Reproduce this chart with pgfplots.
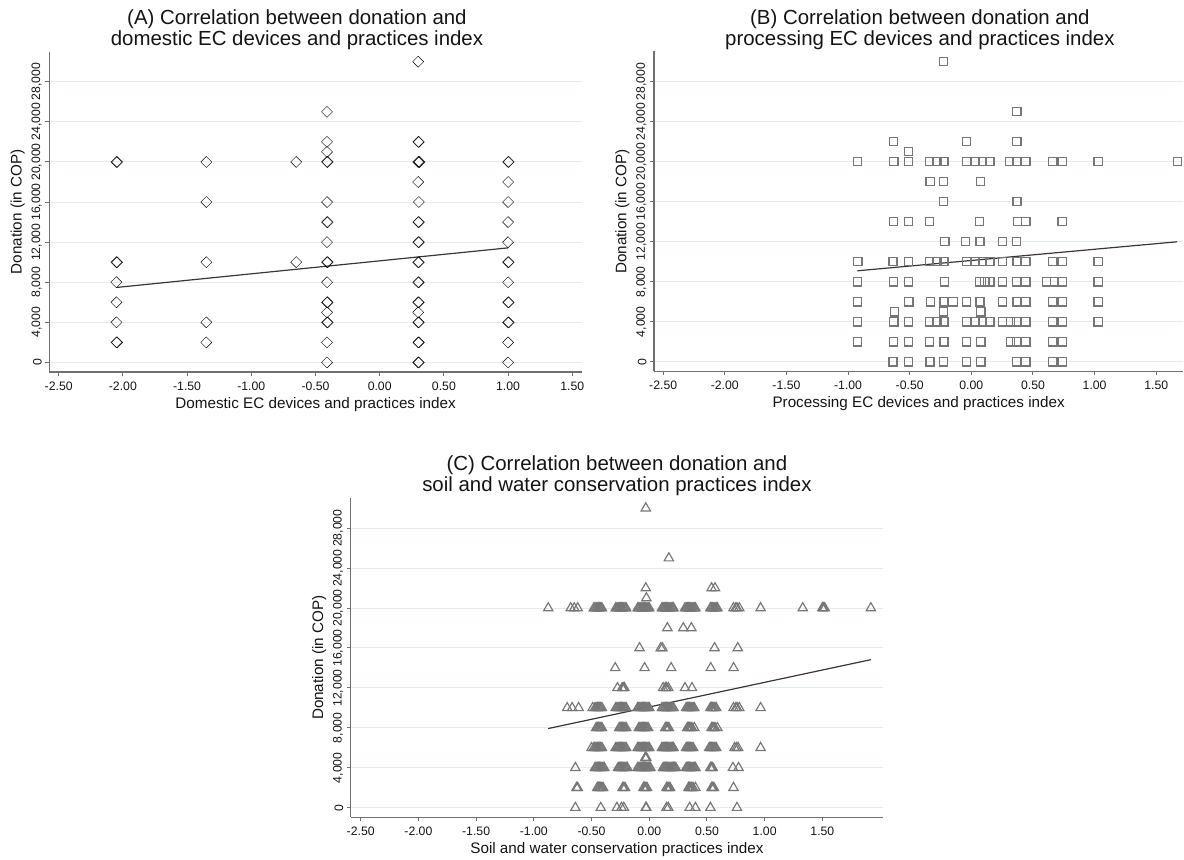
\documentclass[border=0pt]{standalone}
\usepackage{fontspec}
\setmainfont{Liberation Sans}
\usepackage{pgfplots}
\pgfplotsset{compat=1.18}
\definecolor{mk}{RGB}{118,118,118}
\definecolor{gridc}{RGB}{226,237,241}
\definecolor{axc}{RGB}{112,112,112}
\definecolor{fitc}{RGB}{55,55,55}
\definecolor{txt}{RGB}{20,20,20}
\pgfplotsset{
  stata/.style={
    scale only axis,
    axis x line*=bottom, axis y line*=left,
    axis line style={-, draw=axc, line width=1.3bp},
    ymin=-950, ymax=31000,
    xtick={-2.5,-2,-1.5,-1,-0.5,0,0.5,1,1.5},
    ytick={0,4000,8000,12000,16000,20000,24000,28000},
    scaled ticks=false,
    ymajorgrids, grid style={draw=gridc, line width=1bp},
    tick align=outside, major tick length=4bp,
    tick style={draw=axc, line width=1bp},
    /pgf/number format/assume math mode=true,
    xticklabel style={yshift=-2bp, /pgf/number format/.cd, fixed, fixed zerofill, precision=2},
    yticklabel style={rotate=90, anchor=south, /pgf/number format/.cd, fixed, 1000 sep={,}},
    tick label style={font=\fontsize{12.3}{14}\selectfont, text=txt},
    label style={font=\fontsize{15.3}{17}\selectfont, text=txt},
    xlabel style={yshift=0bp},
    ylabel={Donation (in COP)},
  },
  pts/.style={only marks, mark options={draw=mk, line width=1.15bp, fill=none}},
  fit/.style={no marks, draw=fitc, line width=1.2bp},
}
\begin{document}
\begin{tikzpicture}
\path (0,0) rectangle (1184bp,-860bp);
% titles
\node[align=center, font=\fontsize{20.5}{21.5}\selectfont, text=txt] at (297bp,-30bp) {(A) Correlation between donation and\\domestic EC devices and practices index};
\node[align=center, font=\fontsize{20.5}{21.5}\selectfont, text=txt] at (920bp,-30bp) {(B) Correlation between donation and\\processing EC devices and practices index};
\node[align=center, font=\fontsize{20.5}{21.5}\selectfont, text=txt] at (617bp,-476bp) {(C) Correlation between donation and\\soil and water conservation practices index};

% ---------------- Panel A
\begin{axis}[stata, at={(49.3bp,-372bp)}, anchor=south west,
  width=532.7bp, height=320.3bp, xmin=-2.573, xmax=1.575,
  xlabel={Domestic EC devices and practices index}]
\addplot[pts, mark=square, mark size=3.9bp, mark options={rotate=45}] coordinates {
(-2.05,20000)(-2.045,20000)(-2.05,10000)(-2.045,10000)(-2.05,8000)(-2.05,6000)(-2.05,4000)(-2.05,2000)(-2.045,2000)
(-1.35,20000)(-1.35,16000)(-1.35,10000)(-1.35,4000)(-1.35,2000)
(-0.65,20000)(-0.65,10000)
(-0.41,25000)(-0.41,22000)(-0.41,21000)(-0.41,20000)(-0.405,20000)(-0.41,16000)(-0.41,14000)(-0.405,14000)
(-0.41,12000)(-0.41,10000)(-0.405,10000)(-0.41,8000)(-0.41,6000)(-0.405,6000)(-0.41,5000)(-0.41,4000)(-0.405,4000)(-0.41,2000)(-0.41,0)
(0.30,30000)(0.30,22000)(0.305,22000)(0.30,20000)(0.305,20000)(0.31,20000)(0.30,18000)(0.305,16000)
(0.30,14000)(0.305,14000)(0.30,12000)(0.305,12000)(0.30,10000)(0.305,10000)(0.30,8000)(0.305,8000)
(0.30,6000)(0.305,6000)(0.30,5000)(0.30,4000)(0.305,4000)(0.30,2000)(0.305,2000)(0.30,0)(0.305,0)
(1.00,20000)(1.005,20000)(1.00,18000)(1.00,16000)(1.00,14000)(1.00,12000)(1.00,10000)(1.005,10000)
(1.00,8000)(1.00,6000)(1.005,6000)(1.00,4000)(1.005,4000)(1.00,2000)(1.00,0)
};
\addplot[fit] coordinates {(-2.05,7480)(1.00,11430)};
\end{axis}

% ---------------- Panel B
\begin{axis}[stata, at={(654bp,-371.5bp)}, anchor=south west,
  width=529.5bp, height=320bp, xmin=-2.575, xmax=1.72,
  xlabel={Processing EC devices and practices index}]
\addplot[pts, mark=square, mark size=4.1bp] coordinates {
(-0.226,30000)(0.369,25000)
(-0.633,22000)(-0.041,22000)(0.369,22000)
(-0.512,21000)
(-0.925,20000)(-0.633,20000)(-0.628,20000)(-0.512,20000)(-0.337,20000)(-0.28,20000)(-0.226,20000)(-0.22,20000)
(-0.041,20000)(0.03,20000)(0.092,20000)(0.15,20000)(0.31,20000)(0.369,20000)(0.443,20000)
(0.66,20000)(0.736,20000)(1.028,20000)(1.67,20000)
(-0.334,18000)(-0.226,18000)(0.073,18000)
(-0.226,16000)(0.366,16000)(0.371,16000)
(-0.63,14000)(-0.512,14000)(-0.337,14000)(0.067,14000)(0.375,14000)(0.443,14000)(0.736,14000)
(-0.22,12000)(-0.215,12000)(-0.05,12000)(0.067,12000)(0.072,12000)(0.252,12000)(0.366,12000)
(-0.925,10000)(-0.92,10000)(-0.636,10000)(-0.63,10000)(-0.512,10000)(-0.337,10000)(-0.28,10000)(-0.226,10000)(-0.22,10000)
(-0.041,10000)(0.03,10000)(0.092,10000)(0.15,10000)(0.252,10000)(0.366,10000)(0.372,10000)(0.443,10000)
(0.66,10000)(0.736,10000)(1.028,10000)
(-0.925,8000)(-0.633,8000)(-0.512,8000)(-0.22,8000)(0.067,8000)(0.11,8000)(0.15,8000)(0.252,8000)
(0.366,8000)(0.443,8000)(0.612,8000)(0.674,8000)(0.736,8000)(1.028,8000)
(-0.925,6000)(-0.512,6000)(-0.507,6000)(-0.33,6000)(-0.226,6000)(-0.22,6000)(-0.149,6000)(-0.041,6000)(0.067,6000)(0.072,6000)
(0.252,6000)(0.369,6000)(0.374,6000)(0.443,6000)(0.659,6000)(0.736,6000)(1.028,6000)
(-0.626,5000)(-0.226,5000)(0.073,5000)(0.078,5000)
(-0.925,4000)(-0.633,4000)(-0.628,4000)(-0.512,4000)(-0.337,4000)(-0.28,4000)(-0.226,4000)(-0.22,4000)(-0.041,4000)(0.03,4000)
(0.092,4000)(0.15,4000)(0.252,4000)(0.32,4000)(0.369,4000)(0.443,4000)(0.659,4000)(0.736,4000)(1.028,4000)
(-0.925,2000)(-0.633,2000)(-0.512,2000)(-0.337,2000)(-0.226,2000)(-0.22,2000)(-0.041,2000)(0.073,2000)(0.078,2000)
(0.32,2000)(0.369,2000)(0.443,2000)(0.659,2000)(0.736,2000)
(-0.636,0)(-0.63,0)(-0.512,0)(-0.337,0)(-0.332,0)(-0.226,0)(-0.041,0)(0.073,0)(0.078,0)(0.366,0)(0.443,0)(0.659,0)(0.736,0)
};
\addplot[fit] coordinates {(-0.925,9100)(1.67,12000)};
\end{axis}

% ---------------- Panel C
\begin{axis}[stata, at={(350.7bp,-817.3bp)}, anchor=south west,
  width=532.6bp, height=319bp, xmin=-2.587, xmax=2.027,
  xlabel={Soil and water conservation practices index}]
\addplot[pts, mark=triangle, mark size=5.4bp] coordinates {
(-0.03,30000)(0.17,25000)
(-0.03,22000)(0.54,22000)(0.57,22000)
(-0.025,21000)
(-0.875,20000)(-0.68,20000)(-0.65,20000)(-0.62,20000)
(-0.48,20000)(-0.47,20000)(-0.46,20000)(-0.45,20000)(-0.44,20000)(-0.43,20000)(-0.42,20000)(-0.41,20000)
(-0.29,20000)(-0.28,20000)(-0.27,20000)(-0.26,20000)(-0.25,20000)(-0.24,20000)(-0.23,20000)(-0.22,20000)(-0.21,20000)(-0.20,20000)
(-0.10,20000)(-0.09,20000)(-0.08,20000)(-0.07,20000)(-0.06,20000)(-0.05,20000)(-0.04,20000)(-0.03,20000)(-0.02,20000)(-0.01,20000)(0.00,20000)
(0.11,20000)(0.12,20000)(0.13,20000)(0.14,20000)(0.15,20000)(0.16,20000)(0.17,20000)(0.18,20000)(0.19,20000)(0.20,20000)(0.21,20000)
(0.31,20000)(0.32,20000)(0.33,20000)(0.34,20000)(0.35,20000)(0.36,20000)(0.37,20000)(0.38,20000)(0.39,20000)(0.40,20000)
(0.53,20000)(0.54,20000)(0.55,20000)(0.56,20000)(0.57,20000)(0.58,20000)(0.59,20000)
(0.73,20000)(0.75,20000)(0.76,20000)(0.78,20000)(0.965,20000)(1.33,20000)(1.50,20000)(1.51,20000)(1.52,20000)(1.92,20000)
(0.157,18000)(0.295,18000)(0.365,18000)
(-0.084,16000)(0.10,16000)(0.114,16000)(0.566,16000)(0.767,16000)
(-0.295,14000)(-0.04,14000)(0.19,14000)(0.533,14000)(0.731,14000)
(-0.275,12000)(-0.235,12000)(-0.225,12000)(-0.215,12000)(0.12,12000)(0.14,12000)(0.15,12000)(0.165,12000)(0.31,12000)(0.37,12000)
(-0.711,10000)(-0.668,10000)(-0.612,10000)
(-0.49,10000)(-0.47,10000)(-0.46,10000)(-0.45,10000)(-0.44,10000)(-0.43,10000)(-0.42,10000)(-0.41,10000)
(-0.29,10000)(-0.28,10000)(-0.27,10000)(-0.26,10000)(-0.25,10000)(-0.24,10000)(-0.23,10000)(-0.22,10000)(-0.21,10000)(-0.20,10000)
(-0.10,10000)(-0.09,10000)(-0.08,10000)(-0.07,10000)(-0.06,10000)(-0.05,10000)(-0.04,10000)(-0.03,10000)(-0.02,10000)(-0.01,10000)(0.00,10000)
(0.11,10000)(0.12,10000)(0.13,10000)(0.14,10000)(0.15,10000)(0.16,10000)(0.17,10000)(0.18,10000)(0.19,10000)(0.20,10000)(0.21,10000)
(0.32,10000)(0.33,10000)(0.34,10000)(0.35,10000)(0.36,10000)(0.37,10000)(0.38,10000)(0.39,10000)
(0.53,10000)(0.54,10000)(0.55,10000)(0.56,10000)(0.57,10000)(0.58,10000)
(0.73,10000)(0.75,10000)(0.76,10000)(0.78,10000)(0.965,10000)
(-0.46,8000)(-0.45,8000)(-0.44,8000)(-0.43,8000)(-0.42,8000)(-0.41,8000)
(-0.26,8000)(-0.25,8000)(-0.24,8000)(-0.23,8000)(-0.22,8000)(-0.21,8000)(-0.20,8000)
(-0.09,8000)(-0.08,8000)(-0.07,8000)(-0.06,8000)(-0.05,8000)(-0.04,8000)(-0.03,8000)(-0.02,8000)(-0.01,8000)
(0.14,8000)(0.15,8000)(0.16,8000)(0.17,8000)
(0.33,8000)(0.34,8000)(0.35,8000)(0.36,8000)(0.37,8000)(0.39,8000)
(0.54,8000)(0.55,8000)(0.56,8000)(0.57,8000)(0.59,8000)
(-0.50,6000)(-0.48,6000)(-0.47,6000)(-0.46,6000)(-0.45,6000)(-0.44,6000)(-0.43,6000)(-0.42,6000)(-0.41,6000)
(-0.29,6000)(-0.28,6000)(-0.27,6000)(-0.26,6000)(-0.25,6000)(-0.24,6000)(-0.23,6000)(-0.22,6000)(-0.21,6000)(-0.20,6000)
(-0.10,6000)(-0.09,6000)(-0.08,6000)(-0.07,6000)(-0.06,6000)(-0.05,6000)(-0.04,6000)(-0.03,6000)(-0.02,6000)(-0.01,6000)(0.00,6000)
(0.11,6000)(0.12,6000)(0.13,6000)(0.14,6000)(0.15,6000)(0.16,6000)(0.17,6000)(0.18,6000)(0.19,6000)(0.20,6000)(0.21,6000)
(0.32,6000)(0.33,6000)(0.34,6000)(0.35,6000)(0.36,6000)(0.37,6000)(0.38,6000)
(0.52,6000)(0.53,6000)(0.54,6000)(0.55,6000)(0.56,6000)(0.57,6000)(0.58,6000)
(0.74,6000)(0.755,6000)(0.77,6000)(0.965,6000)
(-0.035,5000)(-0.03,5000)(-0.025,5000)
(-0.64,4000)
(-0.47,4000)(-0.46,4000)(-0.45,4000)(-0.44,4000)(-0.43,4000)(-0.42,4000)(-0.41,4000)(-0.40,4000)(-0.39,4000)
(-0.27,4000)(-0.26,4000)(-0.25,4000)(-0.24,4000)(-0.23,4000)(-0.22,4000)(-0.21,4000)(-0.20,4000)(-0.19,4000)
(-0.10,4000)(-0.09,4000)(-0.08,4000)(-0.07,4000)(-0.06,4000)(-0.05,4000)(-0.04,4000)(-0.03,4000)(-0.02,4000)(-0.01,4000)(0.00,4000)(0.01,4000)
(0.12,4000)(0.13,4000)(0.14,4000)(0.15,4000)(0.16,4000)(0.17,4000)(0.18,4000)(0.19,4000)(0.20,4000)(0.21,4000)(0.22,4000)(0.23,4000)
(0.32,4000)(0.33,4000)(0.34,4000)(0.35,4000)(0.36,4000)(0.37,4000)(0.38,4000)(0.39,4000)(0.40,4000)
(0.53,4000)(0.54,4000)(0.55,4000)(0.725,4000)(0.774,4000)
(-0.63,2000)(-0.62,2000)
(-0.45,2000)(-0.44,2000)(-0.43,2000)(-0.42,2000)(-0.41,2000)(-0.40,2000)
(-0.23,2000)(-0.22,2000)(-0.21,2000)
(-0.05,2000)(-0.04,2000)(-0.03,2000)(-0.02,2000)
(0.15,2000)(0.16,2000)(0.17,2000)(0.18,2000)
(0.34,2000)(0.35,2000)(0.36,2000)(0.37,2000)(0.38,2000)(0.40,2000)
(0.54,2000)(0.55,2000)(0.56,2000)(0.73,2000)
(-0.64,0)(-0.42,0)(-0.28,0)(-0.24,0)(-0.22,0)(-0.03,0)(-0.025,0)(0.15,0)(0.165,0)(0.35,0)(0.40,0)(0.53,0)(0.76,0)
};
\addplot[fit] coordinates {(-0.876,7930)(1.92,14830)};
\end{axis}
\end{tikzpicture}
\end{document}
